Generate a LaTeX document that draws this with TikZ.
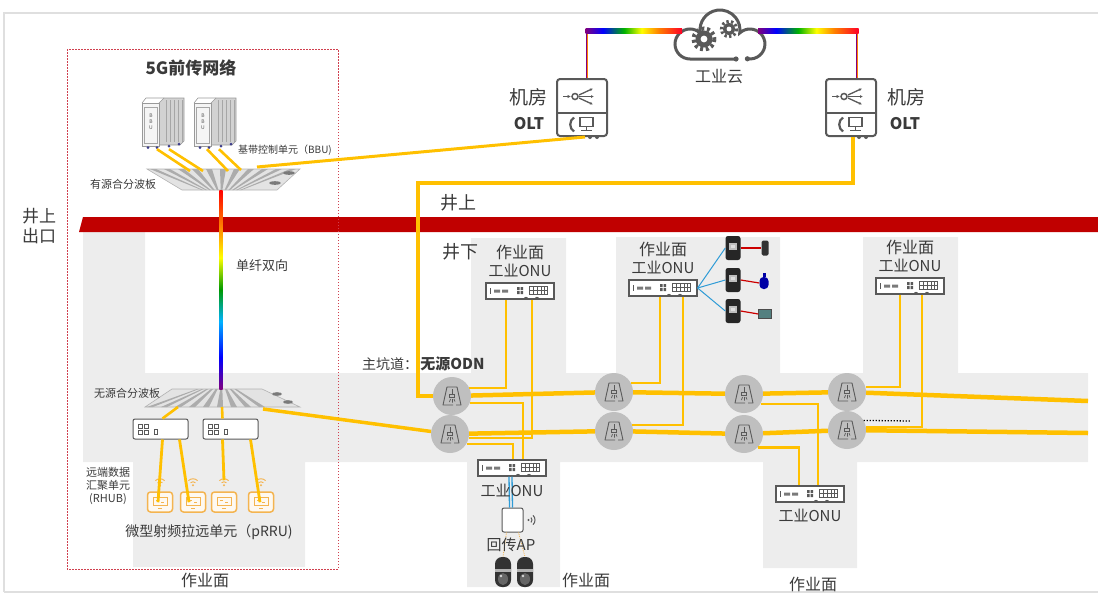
\documentclass[tikz,border=0pt]{standalone}
\usepackage{fontspec}
\setmainfont{Noto Sans CJK SC}
\usetikzlibrary{positioning,arrows.meta}

\definecolor{cable}{HTML}{FFC000}
\definecolor{zone}{HTML}{EDEDED}
\definecolor{band}{HTML}{C00000}
\definecolor{frame}{HTML}{D0404F}
\definecolor{icon}{HTML}{595959}
\definecolor{odnfill}{HTML}{BFBFBF}
\definecolor{txt}{HTML}{3A3A3A}
\definecolor{wifi}{HTML}{2E9BD6}
\definecolor{prru}{HTML}{F4B450}

% Rainbow fibre, vertical and horizontal.
\pgfdeclareverticalshading{rainbowv}{100bp}{color(0bp)=(violet); color(25bp)=(violet); color(33bp)=(blue); color(42bp)=(cyan!70!blue); color(50bp)=(green!60!black); color(58bp)=(yellow); color(66bp)=(orange); color(75bp)=(red); color(100bp)=(red)}
\pgfdeclarehorizontalshading{rainbowh}{100bp}{color(0bp)=(violet); color(25bp)=(violet); color(34bp)=(blue); color(45bp)=(green!70!black); color(54bp)=(yellow); color(63bp)=(orange); color(75bp)=(red!85!magenta); color(100bp)=(red!85!magenta)}

\tikzset{
	lbl/.style={inner sep=0pt, text=txt},
	tinytext/.style={lbl, font=\fontsize{10}{12}\selectfont},
	smalltext/.style={lbl, font=\fontsize{11}{13}\selectfont},
	midtext/.style={lbl, font=\fontsize{14}{16}\selectfont},
	zonename/.style={lbl, font=\fontsize{16}{18}\selectfont},
	bigtext/.style={lbl, font=\fontsize{18}{20}\selectfont},
	boldtext/.style={lbl, font=\fontsize{16}{18}\selectfont\bfseries},
	feeder/.style={draw=cable, line width=3pt},
	trunk/.style={draw=cable, line width=4.5pt},
	tap/.style={draw=cable, line width=2.2pt},
	odn/.style={circle, fill=odnfill, minimum size=38pt, inner sep=0pt,
		path picture={
			\begin{scope}[shift={(path picture bounding box.center)}]
				\draw[icon, line width=0.9pt, line join=round]
					(1,9) -- (-9,9) -- (-5,-9) -- (5,-9) -- (9,9) -- (4,9);
				\draw[icon, line width=0.9pt] (0,-7) -- (0,-2);
				\draw[icon, line width=0.8pt] (-2.5,-2) rectangle (2.5,1);
				\draw[icon, line width=0.7pt] (-1.5,3) -- (-2.5,6) (0.5,3) -- (0.5,6.5) (2,3) -- (3,5.5);
			\end{scope}
		}},
	onu/.style={draw=icon, line width=1.2pt, fill=white, minimum width=68pt, minimum height=16pt, inner sep=0pt,
		path picture={
			\begin{scope}[shift={(path picture bounding box.center)}]
				\draw[icon, line width=0.6pt] (-30,-3) -- (-30,3);
				\fill[icon!80] (-26,-1.5) rectangle (-20,1.5) (-18,-1.5) rectangle (-12,1.5);
				\fill[icon] (-3,-4) rectangle (-0.5,-1) (0.5,-4) rectangle (3,-1)
					(-3,0) rectangle (-0.5,3) (0.5,0) rectangle (3,3);
				\draw[icon, line width=0.6pt] (9,-5) rectangle (27,3)
					(9,-1) -- (27,-1) (13,-5) -- (13,3) (17,-5) -- (17,3) (21,-5) -- (21,3) (24,-5) -- (24,3);
				\fill[icon] (6,8) circle (2.2) (17,8) circle (2.2);
			\end{scope}
		}},
	olt/.style={draw=icon, line width=2pt, rounded corners=3pt, fill=white, minimum width=50pt, minimum height=57pt, inner sep=0pt,
		path picture={
			\begin{scope}[shift={(path picture bounding box.center)}, sharp corners]
				\draw[icon, line width=1.6pt] (-26,5.5) -- (26,5.5);
				\draw[icon, line width=1.5pt, -{Latex[length=3.5pt,width=3.5pt]}] (-19,-11) -- (-11,-11);
				\draw[icon, line width=1.5pt] (-7,-11) circle (3);
				\draw[icon, line width=1.3pt, -{Latex[length=3pt,width=3pt]}] (-3,-12.5) -- (11,-19);
				\draw[icon, line width=1.3pt, -{Latex[length=3pt,width=3pt]}] (-3,-11) -- (12,-11);
				\draw[icon, line width=1.3pt, -{Latex[length=3pt,width=3pt]}] (-3,-9.5) -- (11,-3);
				\draw[icon, line width=2.2pt] (-8,10) .. controls (-13,13) and (-13,21) .. (-8,24);
				\draw[icon, line width=1.5pt] (-2,10) rectangle (11,19) (4.5,19) -- (4.5,22.5) (-1,23) -- (10,23);
			\end{scope}
		}},
	cloudicon/.style={minimum width=100pt, minimum height=58pt, inner sep=0pt,
		path picture={
			\begin{scope}[shift={(path picture bounding box.center)}]
				\filldraw[fill=white, draw=icon, line width=3pt] (16,24) -- (-30,24)
					arc[start angle=90, end angle=312.8, radius=15]
					arc[start angle=171.4, end angle=368.6, radius=20]
					arc[start angle=227.2, end angle=460, radius=15];
				\fill[icon] (16,24) circle (2.6) (27.4,23.8) circle (2.6);
				\fill[icon] (-16,4) circle (8.5);
				\draw[icon, line width=4pt, dash pattern=on 3pt off 2.8pt] (-16,4) circle (10.5);
				\fill[white] (-16,4) circle (3.4);
				\fill[icon] (9,-6) circle (6);
				\draw[icon, line width=3pt, dash pattern=on 2.4pt off 2.3pt] (9,-6) circle (7.6);
				\fill[white] (9,-6) circle (2.4);
			\end{scope}
		}},
	bbu/.style={minimum width=46pt, minimum height=54pt, inner sep=0pt,
		path picture={
			\begin{scope}[shift={(path picture bounding box.center)}]
				\filldraw[fill=gray!35, draw=gray!80, line width=0.6pt]
					(-4,-19) -- (1,-24) -- (21,-24) -- (21,19) -- (17,23) -- (-4,23) -- cycle;
				\foreach \s in {3,7,11,15,19}
					\draw[gray!70, line width=0.6pt] (\s,-22) -- (\s,20);
				\filldraw[fill=gray!8, draw=gray!80, line width=0.7pt] (-21,-19) rectangle (-4,24);
				\draw[gray!80, line width=0.6pt] (-21,-19) -- (-17,-24) -- (1,-24);
				\draw[gray!70, line width=0.5pt] (-19,-15) rectangle (-6,21);
				\fill[icon!70!blue] (-15,25.5) circle (1.5) (-6,25.5) circle (1.5) (6,24) circle (1.5) (16,22) circle (1.5);
			\end{scope}
		}},
	rhub/.style={draw=icon, line width=1pt, rounded corners=2pt, fill=white, minimum width=55pt, minimum height=20pt, inner sep=0pt,
		path picture={
			\begin{scope}[shift={(path picture bounding box.center)}, sharp corners]
				\draw[icon, line width=0.6pt] (-22,-5) rectangle (-18,-1) (-16,-5) rectangle (-12,-1)
					(-22,1) rectangle (-18,5) (-16,1) rectangle (-12,5) (-6,0) rectangle (-3,5);
			\end{scope}
		}},
	prrubox/.style={draw=prru, line width=1.5pt, rounded corners=3pt, fill=prru!8, minimum width=25pt, minimum height=20pt, inner sep=0pt,
		path picture={
			\begin{scope}[shift={(path picture bounding box.center)}, sharp corners]
				\draw[prru, line width=0.8pt] (-7,-5) rectangle (7,3);
				\draw[prru, line width=0.7pt] (-4,-2) -- (-1,-2) (1,0) -- (4,0);
				\draw[prru, line width=1pt] (-2,6) -- (2,6);
			\end{scope}
		}},
	ap/.style={draw=icon, line width=1pt, rounded corners=2pt, fill=white, minimum width=21pt, minimum height=24pt, inner sep=0pt},
	camera/.style={rounded corners=7pt, fill=black!80, minimum width=16pt, minimum height=30pt, inner sep=0pt,
		path picture={
			\begin{scope}[shift={(path picture bounding box.center)}, sharp corners]
				\fill[gray!60] (-8,-3) rectangle (8,0);
				\fill[black!60] (0,7) ellipse (5 and 6);
				\fill[gray!30] (-2,4) circle (1.3);
			\end{scope}
		}},
	sensor/.style={rounded corners=2.5pt, fill=black!85, minimum width=15pt, minimum height=24pt, inner sep=0pt,
		path picture={
			\begin{scope}[shift={(path picture bounding box.center)}, sharp corners]
				\fill[gray!50] (-4,-5) rectangle (4,2);
				\fill[gray!25] (-2,-3) rectangle (2,0);
			\end{scope}
		}},
}

\begin{document}
\begin{tikzpicture}[x=1pt, y=-1pt, font=\fontsize{15}{17}\selectfont]
	\useasboundingbox (0,0) rectangle (1098,595);

	% Page frame.
	\draw[gray!25, line width=1.2pt] (4,592) -- (4,13) -- (1098,13);
	\draw[gray!25, line width=1.2pt] (4,592) -- (1098,592);

	% Underground roadways and working faces.
	\fill[zone]	(83,232) rectangle (145,373)
				(83,373) rectangle (1088,462)
				(133,462) rectangle (305,567)
				(467,462) rectangle (560,587)
				(763,462) rectangle (857,568)
				(471,238) rectangle (566,373)
				(616,237) rectangle (780,373)
				(863,237) rectangle (958,373);

	% Shaft exit.
	\fill[band] (83,217) -- (1098,217) -- (1098,232) -- (79,232) -- cycle;

	% 5G fronthaul frame.
	\draw[frame, line width=1pt, dash pattern=on 1.5pt off 1.5pt] (67,49) rectangle (338,569);

	% Active splitter board.
	\begin{scope}
		\clip (147,169) -- (300,169) -- (277,190) -- (182,190) -- cycle;
		\fill[gray!22] (140,160) rectangle (305,195);
		\foreach \i in {0,...,10}
			\fill[gray!65] (221,198) -- ({150+14*\i},169) -- ({156+14*\i},169) -- cycle;
	\end{scope}
	\draw[gray!60, line width=0.6pt] (147,169) -- (300,169) -- (277,190) -- (182,190) -- cycle;
	\fill[icon!80] (289,173) ellipse (6 and 1.8) (275,183) ellipse (6 and 1.8);

	% Passive splitter board.
	\begin{scope}
		\clip (172,389) -- (262,389) -- (300,407) -- (145,407) -- cycle;
		\fill[gray!22] (140,385) rectangle (305,410);
		\foreach \i in {0,...,8}
			\fill[gray!65] (222,380) -- ({147+14*\i},407) -- ({153+14*\i},407) -- cycle;
	\end{scope}
	\draw[gray!60, line width=0.6pt] (172,389) -- (262,389) -- (300,407) -- (145,407) -- cycle;
	\fill[icon!80] (277,394) ellipse (5 and 1.8) (288,402) ellipse (5 and 1.8);

	\coordinate (boardAfoot) at (221,190);
	\coordinate (boardAout) at (257,167);
	\coordinate (boardAin1) at (190,171);
	\coordinate (boardAin2) at (203,171);
	\coordinate (boardAin3) at (228,171);
	\coordinate (boardAin4) at (241,170);
	\coordinate (boardBhead) at (221,389);
	\coordinate (boardBout) at (263,409);
	\coordinate (boardBa) at (178,407);
	\coordinate (boardBb) at (222,407);

	% Single fibre, both directions.
	\shade[shading=rainbowv] ([xshift=-1.6pt]boardAfoot) rectangle ([xshift=1.6pt]boardBhead);

	% Equipment.
	\node[bbu] (bbuA) at (163,122) {};
	\node[bbu] (bbuB) at (215,122) {};
	\node[lbl, align=center, text=icon, font=\fontsize{5}{6}\selectfont] (bbuAtag) at ([xshift=-12pt]bbuA.center) {B\\B\\U};
	\node[lbl, align=center, text=icon, font=\fontsize{5}{6}\selectfont] (bbuBtag) at ([xshift=-12pt]bbuB.center) {B\\B\\U};

	\node[olt] (oltA) at (582,107.5) {};
	\node[olt] (oltB) at (851,107.5) {};
	\fill[icon] ([xshift=8pt]oltA.south) circle (2) ([xshift=15pt]oltA.south) circle (2);
	\fill[icon] ([xshift=8pt]oltB.south) circle (2) ([xshift=15pt]oltB.south) circle (2);
	\node[cloudicon] (cloud) at (720,35) {};

	\node[onu] (onuA) at (520,291) {};
	\node[onu] (onuB) at (663,288) {};
	\node[onu] (onuC) at (810,494) {};
	\node[onu] (onuD) at (910,286) {};
	\node[onu] (onuE) at (512,468) {};

	\node[odn] (odnA) at (452,396) {};
	\node[odn] (odnB) at (450,434) {};
	\node[odn] (odnC) at (614,392) {};
	\node[odn] (odnD) at (614,431) {};
	\node[odn] (odnE) at (744,394) {};
	\node[odn] (odnF) at (744,434) {};
	\node[odn] (odnG) at (847,392) {};
	\node[odn] (odnH) at (847,430) {};

	\node[rhub] (rhubA) at (160.5,429) {};
	\node[rhub] (rhubB) at (230.5,429) {};
	\node[prrubox] (prruA) at (160,502) {};
	\node[prrubox] (prruB) at (193,502) {};
	\node[prrubox] (prruC) at (224,502) {};
	\node[prrubox] (prruD) at (261,502) {};
	\foreach \p in {prruA,prruB,prruC,prruD} {
		\fill[prru] ([yshift=6pt]\p.north) circle (1.1);
		\draw[prru, line width=0.9pt] ([yshift=6pt]\p.north) ++(225:3.5) arc[start angle=225, end angle=315, radius=3.5];
		\draw[prru, line width=0.9pt] ([yshift=6pt]\p.north) ++(225:6.5) arc[start angle=225, end angle=315, radius=6.5];
	}

	\node[ap] (ap) at (512.5,520) {};
	\coordinate (apwave) at ([xshift=5pt]ap.east);
	\fill[icon] (apwave) circle (1.2);
	\draw[icon, line width=1pt] (apwave) ++(-45:3.5) arc[start angle=-45, end angle=45, radius=3.5];
	\draw[icon, line width=1pt] (apwave) ++(-45:6.5) arc[start angle=-45, end angle=45, radius=6.5];
	\node[camera] (camA) at (503,572) {};
	\node[camera] (camB) at (525,572) {};

	\node[sensor] (sensA) at (733,248) {};
	\node[sensor] (sensB) at (733,280) {};
	\node[sensor] (sensC) at (733,311) {};
	\node[rounded corners=1.5pt, fill=black!80, minimum width=7pt, minimum height=15pt, inner sep=0pt] (devA) at (765,248) {};
	\node[rounded corners=4pt, fill=blue!65!black, minimum width=9pt, minimum height=12pt, inner sep=0pt] (devB) at (764,283) {};
	\fill[blue!65!black] ([xshift=-1.5pt, yshift=4pt]devB.north) rectangle ([xshift=1.5pt]devB.north);
	\node[draw=black!70, fill=teal!35!gray, minimum width=13pt, minimum height=9pt, inner sep=0pt] (devC) at (765,314) {};

	% Cloud links.
	\coordinate (upA) at (587,31);
	\coordinate (upB) at (857,31);
	\coordinate (cloudL) at (682,31);
	\coordinate (cloudR) at (758,31);
	\draw[violet, line width=1.2pt] ([xshift=-0.7pt]upA) -- ([xshift=-0.7pt]upA |- oltA.north);
	\draw[orange, line width=1.2pt] ([xshift=0.7pt]upA) -- ([xshift=0.7pt]upA |- oltA.north);
	\draw[violet, line width=1.2pt] ([xshift=-0.7pt]upB) -- ([xshift=-0.7pt]upB |- oltB.north);
	\draw[orange, line width=1.2pt] ([xshift=0.7pt]upB) -- ([xshift=0.7pt]upB |- oltB.north);
	\shade[shading=rainbowh] ([shift={(-1.5,-2.2)}]upA) rectangle ([shift={(0,2.2)}]cloudL);
	\shade[shading=rainbowh] ([shift={(0,-2.2)}]cloudR) rectangle ([shift={(1.5,2.2)}]upB);

	% Fronthaul fibres.
	\draw[feeder, line width=2.6pt] ([xshift=-6pt]bbuA.south) -- (boardAin1);
	\draw[feeder, line width=2.6pt] ([xshift=6pt]bbuA.south) -- (boardAin2);
	\draw[feeder, line width=2.6pt] ([xshift=-8pt]bbuB.south) -- (boardAin3);
	\draw[feeder, line width=2.6pt] ([xshift=4pt]bbuB.south) -- (boardAin4);
	\draw[feeder] (boardAout) -- ([xshift=3pt]oltA.south);
	\draw[feeder, line width=2.6pt] (boardBa) -- ([xshift=2pt]rhubA.north);
	\draw[feeder, line width=2.6pt] (boardBb) -- ([xshift=-8pt]rhubB.north);
	\draw[feeder, line width=2.8pt] ([xshift=2pt]rhubA.south) -- ([shift={(-2,11)}]prruA.north);
	\draw[feeder, line width=2.8pt] ([xshift=19pt]rhubA.south) -- ([shift={(-4,11)}]prruB.north);
	\draw[feeder, line width=2.8pt] ([xshift=-8pt]rhubB.south) -- ([yshift=11pt]prruC.north);
	\draw[feeder, line width=2.8pt] ([xshift=20pt]rhubB.south) -- ([shift={(-1,11)}]prruD.north);

	% Down the shaft to the passive ODN.
	\coordinate (shaft) at (418,183);
	\draw[feeder, line width=4pt] ([xshift=2pt]oltB.south) |- (shaft) |- (odnA);
	\draw[feeder, line width=3.5pt] (boardBout) -- (odnB);

	% Main roadway trunks.
	\coordinate (trunkAend) at (1088,401);
	\coordinate (trunkBend) at (1088,433);
	\draw[trunk] (odnA) -- (odnC) -- (odnE) -- (odnG) -- (trunkAend);
	\draw[trunk] (odnB) -- (odnD) -- (odnF) -- (odnH) -- (trunkBend);

	% Drops to the ONUs.
	\draw[tap] (odnA.25) -| ([xshift=-14pt]onuA.south);
	\draw[tap] ([xshift=12pt]onuA.south) |- (odnB.-13);
	\draw[tap] (odnA.-22) -| ([xshift=11pt]onuE.north);
	\draw[tap] (odnB.-30) -| ([xshift=1pt]onuE.north);
	\draw[tap] (odnC.28) -| ([xshift=-3pt]onuB.south);
	\draw[tap] ([xshift=20pt]onuB.south) |- (odnD.18);
	\draw[tap] (odnE.-30) -| ([xshift=8pt]onuC.north);
	\draw[tap] (odnF.-45) -| ([xshift=-11pt]onuC.north);
	\draw[tap] ([xshift=-10pt]onuD.south) |- (odnG.15);
	\draw[tap] ([xshift=12pt]onuD.south) |- (odnH.10);
	\coordinate (dotsEnd) at (910,421);
	\draw[black, line width=1.3pt, dash pattern=on 1.3pt off 1.7pt] (odnH.30) -- (dotsEnd);

	% Sensors on the working face.
	\foreach \s in {sensA,sensB,sensC}
		\draw[wifi, line width=1pt] (onuB.east) -- (\s.west);
	\draw[red!80!black, line width=1.2pt] (sensA.east) -- (devA.west);
	\draw[red!80!black, line width=1.2pt] (sensB.east) -- (devB.west);
	\draw[red!80!black, line width=1.2pt] (sensC.east) -- (devC.west);

	% Backhaul AP and cameras.
	\draw[wifi, line width=1.3pt] ([xshift=-3pt]onuE.south) -- ([xshift=-3pt]ap.north);
	\draw[wifi, line width=1.3pt] ([xshift=0pt]onuE.south) -- ([xshift=0pt]ap.north);
	\draw[prru, line width=0.8pt, densely dotted] ([xshift=-6pt]ap.south) -- (camA.north);
	\draw[prru, line width=0.8pt, densely dotted] ([xshift=6pt]ap.south) -- (camB.north);

	% Labels.
	\node[boldtext, font=\fontsize{17}{19}\selectfont\bfseries] (title) at (191,68) {5G前传网络};
	\node[tinytext] (bbuname) at (285,150) {基带控制单元（BBU)};
	\node[smalltext] (boardAname) at (123,184) {有源合分波板};
	\node[smalltext] (boardBname) at (127,393) {无源合分波板};
	\node[smalltext, align=center] (rhubname) at (108,486) {远端数据\\汇聚单元\\(RHUB)};
	\node[midtext] (prruname) at (209,532) {微型射频拉远单元（pRRU)};
	\node[lbl, font=\fontsize{13}{15}\selectfont] (fibrename) at (262,266) {单纤双向};
	\node[bigtext, align=center, font=\fontsize{17}{20}\selectfont] (exitname) at (39,226) {井上\\出口};
	\node[bigtext] (upname) at (458,203) {井上};
	\node[bigtext] (downname) at (460,252) {井下};
	\node[bigtext, font=\fontsize{19}{21}\selectfont] (roomA) at (528,97) {机房};
	\node[boldtext] (oltAname) at (529,124) {OLT};
	\node[bigtext, font=\fontsize{19}{21}\selectfont] (roomB) at (906,97) {机房};
	\node[boldtext] (oltBname) at (905,124) {OLT};
	\node[zonename] (cloudname) at (719,77) {工业云};
	\node[midtext] (mainname) at (390,364) {主坑道：};
	\node[boldtext, font=\fontsize{15}{17}\selectfont\bfseries, right=2pt of mainname] (odnname) {无源ODN};

	\node[lbl, above=5pt of onuA] (onuAtype) {工业ONU};
	\node[zonename, above=4pt of onuAtype] (onuAzone) {作业面};
	\node[lbl, above=5pt of onuB] (onuBtype) {工业ONU};
	\node[zonename, above=4pt of onuBtype] (onuBzone) {作业面};
	\node[lbl, above=5pt of onuD] (onuDtype) {工业ONU};
	\node[zonename, above=4pt of onuDtype] (onuDzone) {作业面};
	\node[lbl, below=6pt of onuC] (onuCtype) {工业ONU};
	\node[lbl, below=7pt of onuE] (onuEtype) {工业ONU};
	\node[lbl] (apname) at (511,545) {回传AP};

	\node[zonename] (zoneA) at (205,580) {作业面};
	\node[zonename] (zoneB) at (586,580) {作业面};
	\node[zonename] (zoneC) at (813,584) {作业面};
\end{tikzpicture}
\end{document}
